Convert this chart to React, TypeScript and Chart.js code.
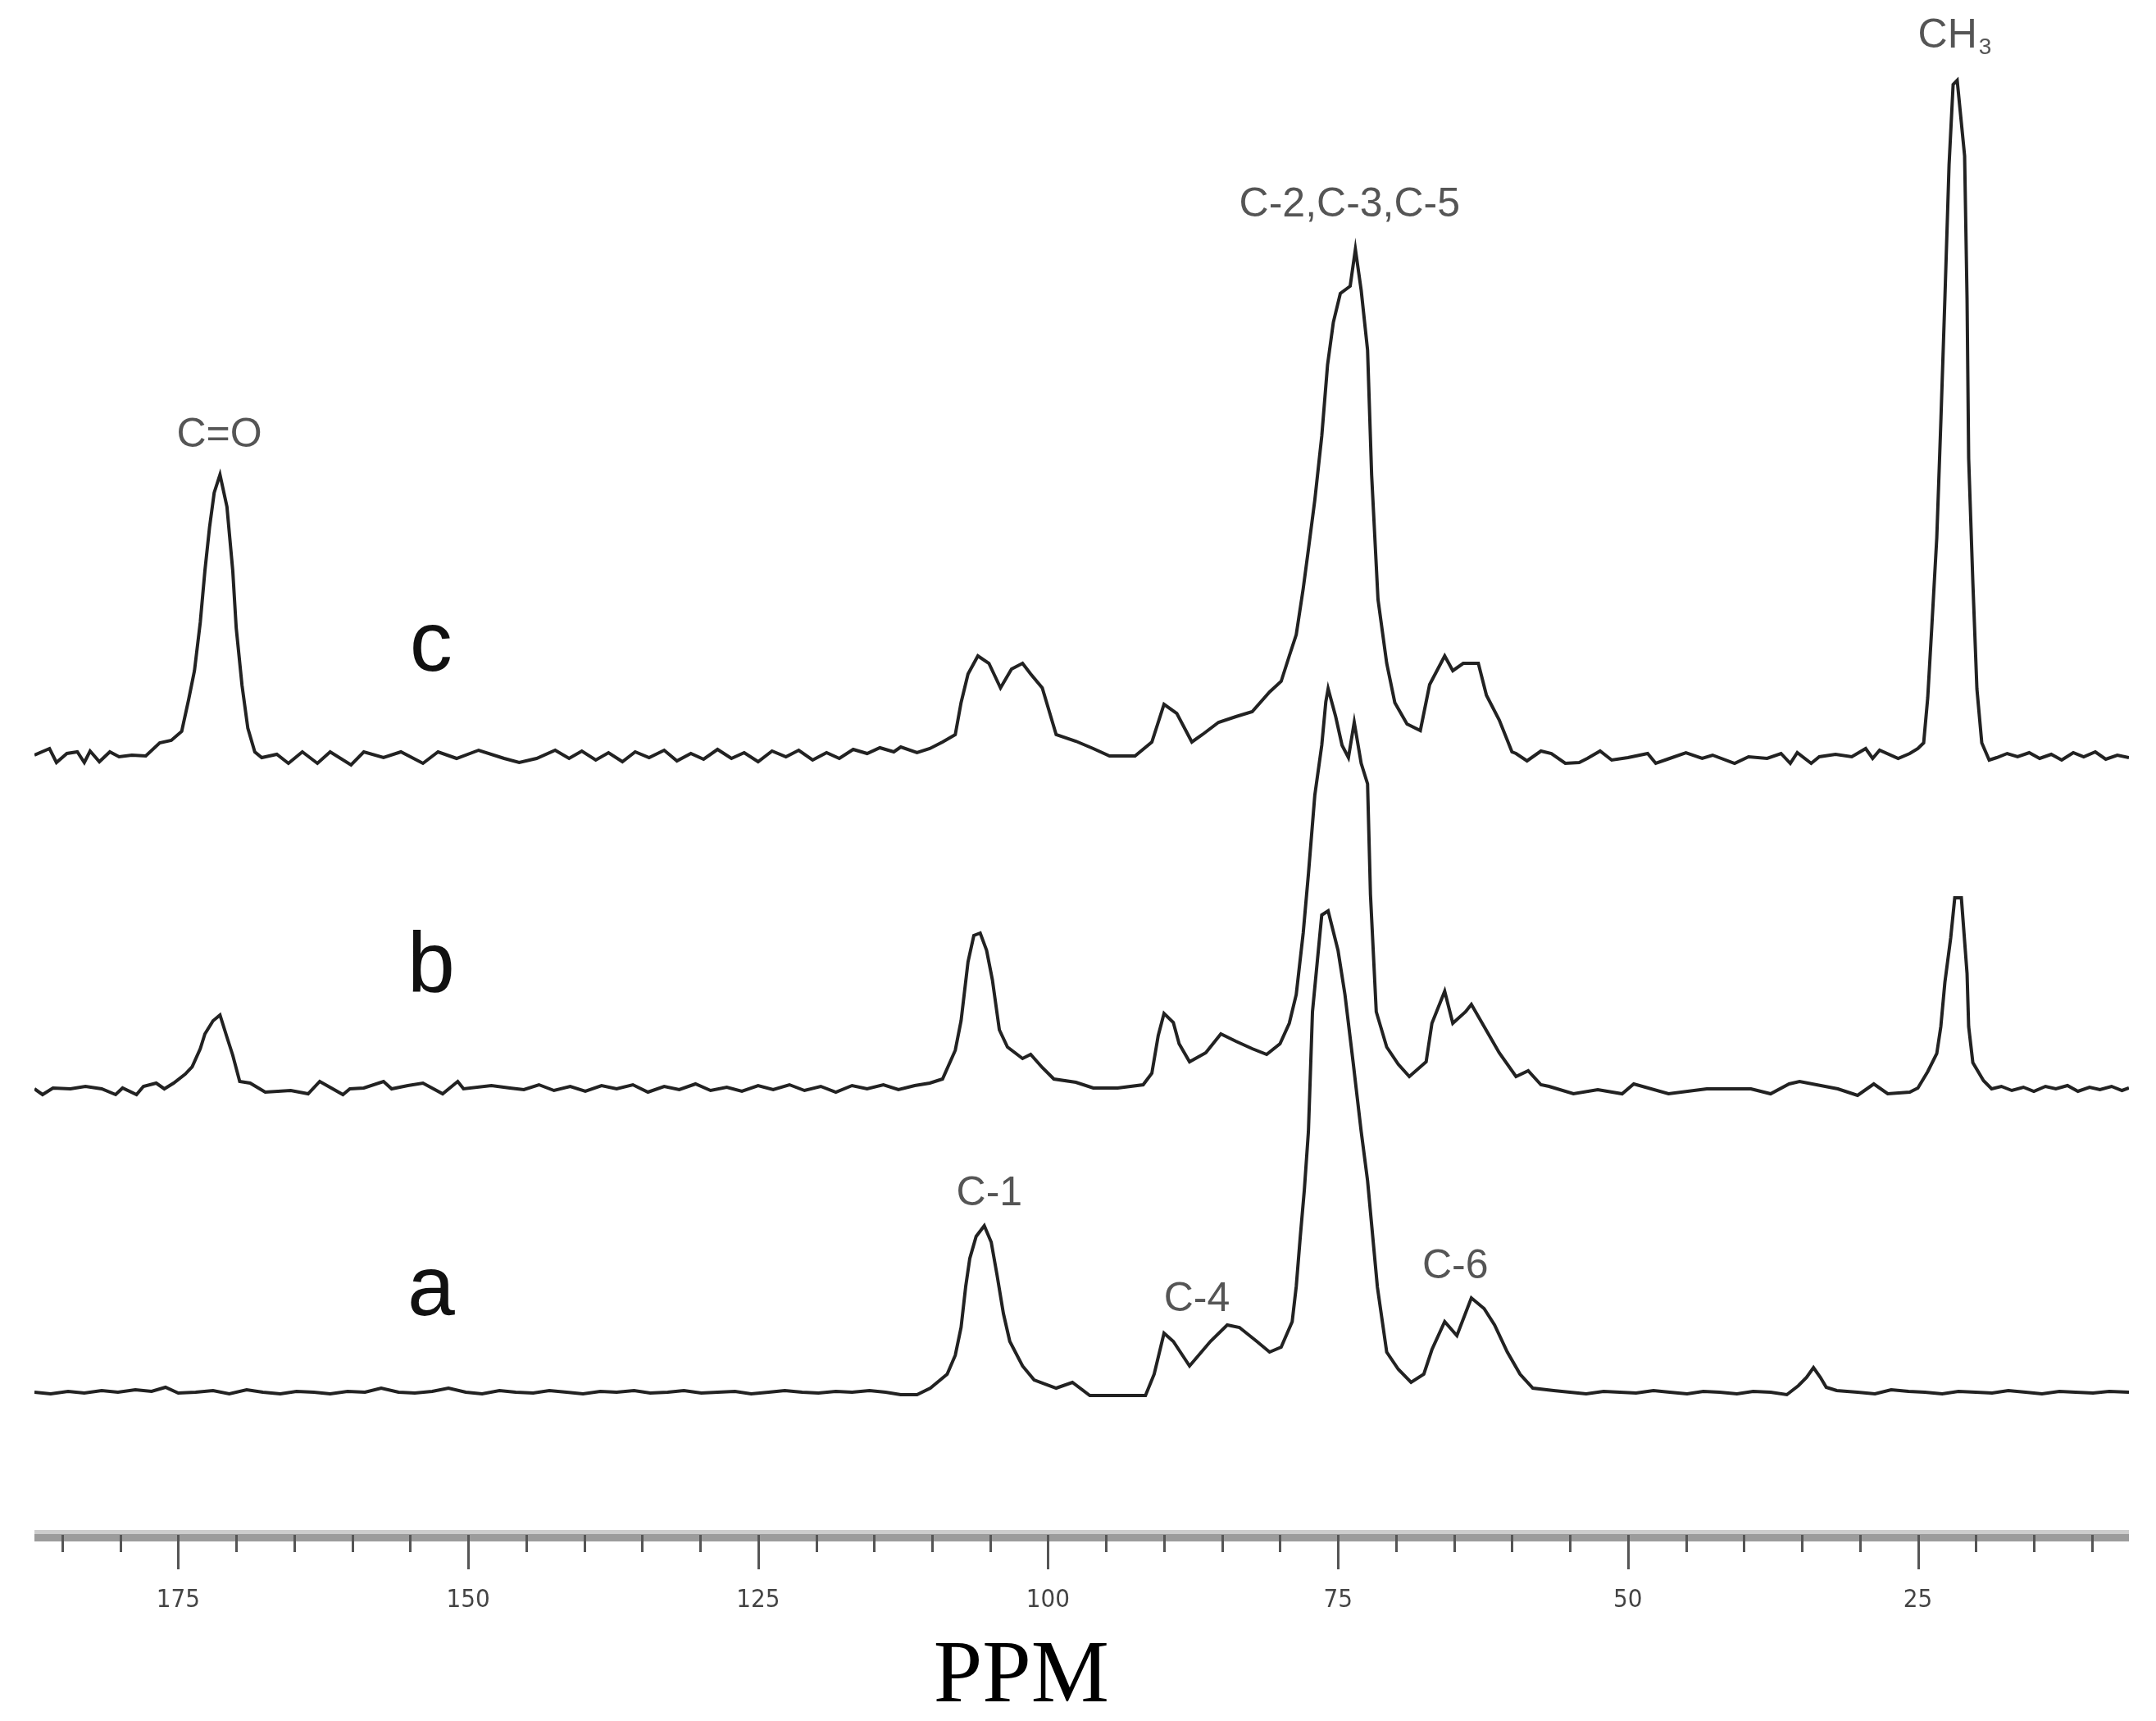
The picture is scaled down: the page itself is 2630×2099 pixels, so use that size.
import React, { useEffect, useRef } from 'react';
import { Chart, registerables } from 'chart.js';

Chart.register(...registerables);

// ---- data (chemical shift in ppm, intensity above own baseline) ----
const spectrumC: [number, number][] = [
  [187.4,0],[186.1,8],[185.5,-9],[184.6,2],[183.7,4],[183.1,-9],[182.6,5],[181.8,-8],[180.9,4],[180.1,-2],[179.0,0],[177.8,-1],[176.6,15],[175.6,18],
  [174.7,29],[174.1,68],[173.6,103],[173.1,162],[172.7,225],[172.3,278],[171.9,320],[171.4,342],[170.8,303],[170.3,225],[170.0,155],[169.5,85],[169.0,33],[168.4,4],[167.8,-3],
  [166.5,1],[165.5,-10],[164.3,4],[163.0,-10],[161.9,4],[160.1,-12],[159.0,4],[157.3,-3],[155.8,4],[153.9,-10],[152.6,4],[151.0,-4],[149.1,6],[146.9,-4],[145.6,-9],[144.1,-4],[142.5,6],[141.3,-4],
  [140.2,5],[139.0,-6],[137.9,3],[136.7,-8],[135.6,4],[134.4,-3],[133.1,6],[132.0,-7],[130.8,2],[129.7,-5],[128.5,7],[127.3,-4],[126.2,3],[125.0,-8],[123.8,5],[122.6,-2],[121.5,6],[120.3,-6],[119.1,3],[118.0,-4],[116.8,7],[115.6,2],[114.5,9],[113.3,4],
  [112.7,10],[111.3,3],[110.2,8],[109.1,16],[108.0,25],[107.5,64],[106.9,99],[106.05,121],[105.1,112],[104.1,82],[103.15,105],[102.2,112],[101.5,99],[100.5,82],[99.3,25],[97.6,17],[96.1,8],[94.7,-1],[92.5,-1],
  [91.05,16],[90.0,62],[88.9,51],[87.6,16],[86.7,25],[85.3,40],[83.8,47],[82.4,53],[80.9,77],[79.9,90],[79.2,121],[78.6,147],[78.0,203],[77.55,251],[77.0,311],[76.4,389],[75.9,476],[75.4,528],[74.8,563],[73.95,572],[73.5,617],[73.0,567],[72.45,494],[72.1,342],[71.55,190],[70.8,112],[70.1,64],[69.05,38],[67.9,30],[67.1,86],[65.8,121],[65.1,103],[64.2,112],[62.9,112],[62.2,73],[61.1,43],[60.0,4],
  [59.65,2],[58.7,-7],[57.5,5],[56.6,2],[55.4,-10],[54.2,-9],[53.5,-4],[52.4,5],[51.4,-6],[50.0,-3],[48.3,2],[47.6,-10],[46.4,-4],[45.0,3],[43.6,-4],[42.7,0],[40.8,-10],[39.6,-2],[38.0,-4],[36.8,2],[36.0,-10],[35.4,3],[34.2,-10],[33.5,-2],[32.1,1],[30.7,-2],[29.5,8],[28.9,-4],[28.3,6],[26.7,-4],[25.7,2],[25.0,8],
  [24.5,15],[24.15,70],[23.8,156],[23.37,265],[23.02,406],[22.67,557],[22.31,720],[21.96,818],[21.61,823],[20.97,731],[20.76,557],[20.62,362],[20.26,211],[19.91,81],[19.49,15],[18.85,-6],
  [18.2,-3],[17.3,2],[16.4,-2],[15.4,3],[14.5,-4],[13.5,1],[12.6,-6],[11.6,3],[10.7,-2],[9.7,4],[8.8,-5],[7.8,0],[6.8,-3],
];

const spectrumB: [number, number][] = [
  [187.4,-1],[186.7,-8],[185.8,0],[184.3,-1],[183.0,2],[181.6,-1],[180.4,-8],[179.8,0],[178.6,-8],[178.0,2],[176.9,6],[176.2,-1],[175.4,6],
  [174.4,17],[173.8,26],[173.1,48],[172.7,66],[172.0,82],[171.4,89],[170.8,62],[170.3,40],[169.7,8],[168.8,6],
  [167.5,-5],[165.3,-3],[163.8,-7],[162.8,8],[160.8,-8],[160.2,-1],[159.0,0],[157.3,8],[156.6,-1],[155.2,3],[153.9,6],[152.2,-7],[150.9,8],[150.4,-1],[148.0,3],[146.4,0],[145.2,-2],[143.9,4],[142.6,-3],[141.2,2],[139.9,-4],[138.5,3],[137.2,-1],[135.8,4],[134.5,-5],[133.1,2],[131.8,-2],[130.4,5],[129.1,-3],[127.7,1],[126.4,-4],[125.0,3],[123.7,-2],[122.3,4],[121.0,-3],[119.6,2],[118.3,-5],[116.9,3],[115.6,-1],[114.2,4],[112.9,-2],[111.5,3],[110.2,6],
  [109.1,11],[108.0,46],[107.5,82],[106.9,154],[106.4,186],[105.85,189],[105.3,168],[104.8,132],[104.2,71],[103.5,50],[102.2,36],[101.5,41],[100.5,25],[99.5,11],[97.6,7],[96.1,0],[94.0,0],[91.8,4],
  [91.05,18],[90.5,64],[90.0,91],[89.2,80],[88.7,54],[87.8,32],[86.4,43],[85.1,66],[83.8,57],[82.4,48],[81.15,41],[80.0,54],[79.2,79],[78.6,114],[78.0,189],[77.55,261],[77.0,357],[76.4,418],[76.05,471],[75.85,487],[75.2,453],[74.65,418],[74.1,403],[73.6,446],[73.0,396],[72.45,371],[72.2,236],[71.7,93],[70.8,50],[69.8,29],[68.85,14],[67.4,32],[66.9,79],[65.8,118],[65.1,79],[64.0,93],[63.5,102],[62.4,75],[61.1,43],[59.65,14],[58.6,21],[57.5,4],
  [56.8,2],[54.7,-7],[52.6,-2],[50.5,-7],[49.5,5],[46.5,-7],[43.2,-1],[39.4,-1],[37.7,-7],[36.1,5],[35.2,8],[31.9,-1],[30.2,-9],[28.8,5],[27.6,-7],[25.7,-5],[25.0,0],
  [24.15,20],[23.37,42],[23.02,75],[22.67,129],[22.17,183],[21.82,232],[21.25,232],[20.76,140],[20.62,75],[20.26,31],[19.34,9],[18.64,-1],
  [17.8,2],[16.9,-3],[15.9,1],[15.0,-4],[14.0,2],[13.1,-1],[12.1,3],[11.2,-4],[10.2,1],[9.3,-2],[8.3,2],[7.4,-3],[6.8,0],
];

const spectrumA: [number, number][] = [
  [187.4,0],[186.0,-2],[184.5,1],[183.1,-1],[181.6,2],[180.2,0],[178.7,3],[177.3,1],[176.1,6],[175.0,-1],[173.5,0],[172.0,2],[170.6,-2],[169.1,3],[167.7,0],[166.2,-2],[164.8,1],[163.3,0],[161.9,-2],[160.4,1],[158.9,0],[157.5,5],[156.0,0],[154.6,-1],[153.1,1],[151.7,5],[150.2,0],[148.8,-2],[147.3,2],[145.9,0],[144.4,-1],[143.0,2],[141.5,0],[140.1,-2],[138.6,1],[137.2,0],[135.7,2],[134.3,-1],[132.8,0],[131.4,2],[129.9,-1],[128.5,0],[127.0,1],[125.6,-2],[124.1,0],[122.7,2],[121.2,0],[119.8,-1],[118.3,1],[116.9,0],[115.4,2],[114.0,0],
  [112.7,-3],[111.3,-3],[110.15,5],[108.7,22],[108.0,45],[107.5,79],[107.1,129],[106.75,163],[106.2,190],[105.5,203],[104.9,183],[104.4,143],[103.85,96],[103.3,62],[102.2,32],[101.2,15],[99.3,5],[97.9,12],[96.4,-4],[93.95,-4],[91.6,-4],
  [90.85,22],[90.0,72],[89.2,62],[87.8,32],[86.0,62],[84.55,82],[83.5,79],[82.0,62],[80.9,49],[79.9,55],[78.95,86],[78.6,129],[78.25,190],[77.9,247],[77.55,318],[77.2,464],[76.4,582],[75.85,587],[75.0,539],[74.4,485],[73.7,403],[73.0,318],[72.45,258],[71.6,128],[70.8,49],[69.8,28],[68.7,12],[67.6,22],[66.9,52],[65.8,86],[64.75,69],[63.5,115],[62.4,102],[61.5,82],[60.4,49],[59.3,22],[58.2,5],
  [56.4,2],[55.0,0],[53.6,-2],[52.1,1],[50.7,0],[49.3,-1],[47.8,2],[46.4,0],[44.9,-2],[43.5,1],[42.1,0],[40.6,-2],[39.2,1],[37.7,0],[36.3,-3],[35.3,8],[34.6,18],[34.0,30],[33.4,18],[32.9,6],[32.0,2],[30.2,0],[28.7,-2],[27.3,3],[25.8,1],[24.4,0],[22.9,-2],[21.5,1],[20.0,0],[18.6,-1],[17.2,2],[15.7,0],[14.3,-2],[12.8,1],[11.4,0],[9.9,-1],[8.5,1],[6.8,0],
];

// spectrum names and their peak assignments (ppm anchor, spectrum, height above baseline)
const spectrumNames = ['c', 'b', 'a'];
const peakLabels = [
  { text: 'C=O', ppm: 171.46, spectrum: 'c', height: 390 },
  { text: 'C-2,C-3,C-5', ppm: 74.0, spectrum: 'c', height: 671 },
  { text: 'C-1', ppm: 105.06, spectrum: 'a', height: 242 },
  { text: 'C-4', ppm: 87.17, spectrum: 'a', height: 113 },
  { text: 'C-6', ppm: 64.89, spectrum: 'a', height: 153 },
];
const methylLabel = { main: 'CH', sub: '3', ppm: 25.0, spectrum: 'c', height: 877 };
const xTitle = 'PPM';
const ppmMin = 6.8;
const ppmMax = 187.4;
const majorStep = 25;
const minorStep = 5;

// ---- presentation ----
const OFFSETS: Record<string, number> = { c: 945, b: 539, a: 168 };
const Y_MAX = 1866;
const LINE_COLOR = '#222';

const decorPlugin = {
  id: 'nmrDecor',
  afterDraw(chart: any) {
    const ctx = chart.ctx as CanvasRenderingContext2D;
    const xs = chart.scales.x;
    const ys = chart.scales.y;
    const top = xs.top;
    ctx.save();
    // axis band
    ctx.fillStyle = '#cdcdcd';
    ctx.fillRect(xs.left, top, xs.right - xs.left, 6);
    ctx.fillStyle = '#9c9c9c';
    ctx.fillRect(xs.left, top + 5, xs.right - xs.left, 9);
    // ticks
    ctx.strokeStyle = '#555';
    ctx.lineWidth = 3;
    for (let v = Math.ceil(ppmMin / minorStep) * minorStep; v <= ppmMax; v += minorStep) {
      const px = Math.round(xs.getPixelForValue(v)) + 0.5;
      const major = v % majorStep === 0;
      ctx.beginPath();
      ctx.moveTo(px, top + 6);
      ctx.lineTo(px, top + (major ? 48 : 27));
      ctx.stroke();
    }
    // spectrum letters
    ctx.fillStyle = '#111';
    ctx.font = "104px 'Liberation Sans', Arial, sans-serif";
    ctx.textAlign = 'center';
    ctx.textBaseline = 'alphabetic';
    const letterHeights: Record<string, number> = { c: 103, b: 118, a: 94 };
    spectrumNames.forEach((n) => {
      ctx.fillText(n, xs.getPixelForValue(153.2), ys.getPixelForValue(OFFSETS[n] + letterHeights[n]));
    });
    // peak labels
    ctx.fillStyle = '#555';
    ctx.font = "50px 'Liberation Sans', Arial, sans-serif";
    ctx.textBaseline = 'middle';
    peakLabels.forEach((l) => {
      ctx.fillText(l.text, xs.getPixelForValue(l.ppm), ys.getPixelForValue(OFFSETS[l.spectrum] + l.height));
    });
    // CH3
    ctx.textAlign = 'left';
    const mx = xs.getPixelForValue(methylLabel.ppm);
    const my = ys.getPixelForValue(OFFSETS[methylLabel.spectrum] + methylLabel.height);
    ctx.fillText(methylLabel.main, mx, my);
    const w = ctx.measureText(methylLabel.main).width;
    ctx.font = "28px 'Liberation Sans', Arial, sans-serif";
    ctx.fillText(methylLabel.sub, mx + w + 2, my + 14);
    // axis title
    ctx.fillStyle = '#000';
    ctx.font = "107px 'Liberation Serif', 'Times New Roman', serif";
    ctx.textAlign = 'center';
    ctx.textBaseline = 'alphabetic';
    ctx.fillText(xTitle, xs.getPixelForValue(102.3), top + 209);
    ctx.restore();
  },
};

export default function App() {
  const ref = useRef<HTMLCanvasElement | null>(null);
  useEffect(() => {
    if (!ref.current) return;
    const mk = (arr: [number, number][], name: string) => ({
      label: name,
      data: arr.map(([x, v]) => ({ x, y: v + OFFSETS[name] })),
      showLine: true,
      borderColor: LINE_COLOR,
      borderWidth: 4,
      pointRadius: 0,
      tension: 0,
      fill: false,
    });
    const chart = new Chart(ref.current, {
      type: 'scatter',
      data: {
        datasets: [mk(spectrumC, 'c'), mk(spectrumB, 'b'), mk(spectrumA, 'a')],
      },
      plugins: [decorPlugin],
      options: {
        animation: false,
        responsive: false,
        events: [],
        layout: { padding: { left: 42, right: 33, top: 0, bottom: 0 } },
        plugins: { legend: { display: false }, tooltip: { enabled: false } },
        scales: {
          x: {
            type: 'linear',
            reverse: true,
            min: ppmMin,
            max: ppmMax,
            position: 'bottom',
            grid: { display: false, drawTicks: false },
            border: { display: false },
            afterFit: (s: any) => { s.height = 2099 - Y_MAX; },
            ticks: {
              stepSize: minorStep,
              includeBounds: false,
              autoSkip: false,
              maxRotation: 0,
              padding: 67,
              color: '#444',
              font: { family: "'Liberation Sans Narrow', 'DejaVu Sans Condensed', 'Liberation Sans', sans-serif", size: 31 },
              callback: (v: any) => (Number(v) % majorStep === 0 ? String(v) : ''),
            },
          },
          y: { display: false, min: 0, max: Y_MAX },
        },
      },
    });
    return () => chart.destroy();
  }, []);
  return (
    <div style={{ position: 'absolute', left: 0, top: 0, width: 2630, height: 2099, background: '#fff' }}>
      <canvas ref={ref} width={2630} height={2099} style={{ display: 'block' }} />
    </div>
  );
}
